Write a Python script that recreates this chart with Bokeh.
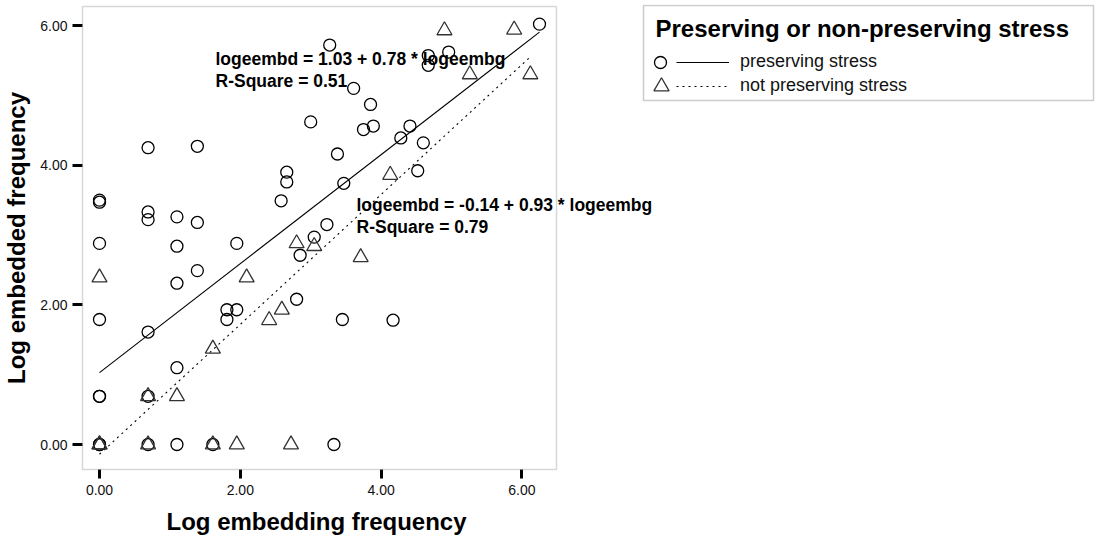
from bokeh.plotting import figure
from bokeh.models import (Range1d, FixedTicker, PrintfTickFormatter, Label,
                          Legend, LegendItem, ColumnDataSource, BoxAnnotation,
                          Title)
from bokeh.embed import file_html
from bokeh.resources import INLINE

# ---------------- data (log frequencies) ----------------
pres_x = [0, 0, 0, 0, 0, 0, 0, 0,
          0.69, 0.69, 0.69, 0.69, 0.69, 0.69,
          1.10, 1.10, 1.10, 1.10, 1.10,
          1.39, 1.39, 1.39,
          1.61,
          1.81, 1.81, 1.95, 1.95,
          2.58, 2.66, 2.66, 2.80, 2.85, 3.00, 3.05, 3.23, 3.27, 3.33, 3.38,
          3.45, 3.47, 3.61, 3.75, 3.85, 3.89, 4.17, 4.28, 4.41, 4.52, 4.60,
          4.67, 4.67, 4.96, 6.25]
pres_y = [0, 0, 0.69, 0.69, 1.79, 2.88, 3.47, 3.50,
          0, 0.69, 1.61, 3.22, 3.33, 4.25,
          0, 1.10, 2.31, 2.84, 3.26,
          2.49, 3.18, 4.27,
          0,
          1.79, 1.93, 1.93, 2.88,
          3.49, 3.76, 3.90, 2.08, 2.71, 4.62, 2.97, 3.15, 5.72, 0, 4.16,
          1.79, 3.74, 5.10, 4.51, 4.87, 4.56, 1.78, 4.39, 4.56, 3.92, 4.32,
          5.57, 5.43, 5.62, 6.02]

notp_x = [0, 0, 0, 0.69, 0.69, 1.10, 1.61, 1.61, 1.95, 2.09, 2.41, 2.59,
          2.72, 2.80, 3.05, 3.71, 4.13, 4.90, 5.26, 5.89, 6.12]
notp_y = [0, 0, 2.39, 0, 0.69, 0.69, 0, 1.37, 0, 2.39, 1.78, 1.93,
          0, 2.88, 2.84, 2.68, 3.86, 5.93, 5.30, 5.94, 5.30]

# fitted lines: intercept, slope, R-square (as printed on the chart)
pres_fit = [1.03, 0.78]
notp_fit = [-0.14, 0.93]
pres_r2 = 0.51
notp_r2 = 0.79

x_ticks = [0, 2, 4, 6]
y_ticks = [0, 2, 4, 6]

series_labels = ["preserving stress", "not preserving stress"]
legend_title = "Preserving or non-preserving stress"
x_title = "Log embedding frequency"
y_title = "Log embedded frequency"

FONT = "Liberation Sans"

# ---------------- layout (pixels of the 1095x544 canvas) ----------------
W, H = 1095, 544
FR_L, FR_T, FR_B = 80, 4, 471          # drawing frame edges
X0_PX, X_PPU = 99.0, 70.4              # x = 0 position, pixels per unit
Y0_PX, Y_PPU = 444.0, 69.83            # y = 0 position, pixels per unit

def px2x(px):
    return (px - X0_PX) / X_PPU

def px2y(py):
    return (Y0_PX - py) / Y_PPU

# fit line end points from the printed equations over each group's range
pres_lx = [min(pres_x), max(pres_x)]
pres_ly = [pres_fit[0] + pres_fit[1] * v for v in pres_lx]
notp_lx = [min(notp_x), max(notp_x)]
notp_ly = [notp_fit[0] + notp_fit[1] * v for v in notp_lx]

# the drawing frame runs to the right edge so that the legend and the
# annotations that cross the plot box are not clipped
p = figure(width=W, height=H,
           x_range=Range1d(px2x(FR_L), px2x(W)),
           y_range=Range1d(px2y(FR_B), px2y(FR_T)),
           min_border_left=FR_L, min_border_right=0,
           min_border_top=FR_T, min_border_bottom=H - FR_B,
           output_backend="svg", toolbar_location=None,
           background_fill_color="white", border_fill_color="white")
p.grid.visible = False
p.outline_line_color = None

# plot box
p.add_layout(BoxAnnotation(left=px2x(82), right=px2x(556),
                           bottom=px2y(469), top=px2y(6),
                           fill_color=None, fill_alpha=0,
                           line_color="#7a7a7a", line_width=1.5))

for ax, ticks in ((p.xaxis, x_ticks), (p.yaxis, y_ticks)):
    ax.ticker = FixedTicker(ticks=ticks)
    ax.formatter = PrintfTickFormatter(format="%.2f")
    ax.axis_line_color = None
    ax.major_tick_line_color = "black"
    ax.major_tick_line_width = 3
    ax.major_tick_in = 2
    ax.minor_tick_line_color = None
    ax.major_label_text_font = FONT
    ax.major_label_text_font_size = "14px"
    ax.major_label_text_color = "#111111"
    ax.axis_label_text_font = FONT
    ax.axis_label_text_font_size = "24px"
    ax.axis_label_text_font_style = "bold"
    ax.axis_label_text_color = "black"

p.xaxis.major_tick_out = 7
p.yaxis.major_tick_out = 8
p.xaxis.major_label_standoff = 6
p.yaxis.major_label_standoff = 5
p.yaxis.axis_label = y_title
p.yaxis.axis_label_standoff = 7

p.add_layout(Title(text=x_title, align="left", offset=86, standoff=16,
                   text_font=FONT, text_font_size="24px",
                   text_font_style="bold", text_color="black"), "below")

src_p = ColumnDataSource(dict(x=pres_x, y=pres_y))
src_n = ColumnDataSource(dict(x=notp_x, y=notp_y))

line_p = p.line(pres_lx, pres_ly, line_color="black", line_width=1.1)
line_n = p.line(notp_lx, notp_ly, line_color="black", line_width=1.1,
                line_dash="2 4")

circ = p.scatter("x", "y", source=src_p, marker="circle", size=12,
                 fill_color=None, line_color="black", line_width=1.3)
tri = p.scatter("x", "y", source=src_n, marker="triangle", size=15,
                fill_color=None, line_color="#333333", line_width=1.3)

def add_label(x_px, base_px, txt, size=17.5):
    # the svg text lands about 0.4 em below the requested baseline
    p.add_layout(Label(x=px2x(x_px), y=px2y(base_px - 0.4 * size), text=txt,
                       text_font=FONT, text_font_size=f"{size}px",
                       text_font_style="bold", text_color="black",
                       text_align="left", text_baseline="alphabetic"))

add_label(215, 65, f"logeembd = {pres_fit[0]:.2f} + {pres_fit[1]:.2f} * logeembg")
add_label(215, 87.7, f"R-Square = {pres_r2:.2f}")
add_label(356, 211.7, f"logeembd = {notp_fit[0]:.2f} + {notp_fit[1]:.2f} * logeembg")
add_label(356, 233.3, f"R-Square = {notp_r2:.2f}")

# ---------------- legend ----------------
# border of the legend box
p.add_layout(BoxAnnotation(left=px2x(643), right=px2x(1093),
                           bottom=px2y(100), top=px2y(5),
                           fill_color="white", fill_alpha=1.0,
                           line_color="#555555", line_width=1.5))
# legend title
add_label(655, 38, legend_title, size=24)

common = dict(label_text_font=FONT, label_text_font_size="18px",
              label_text_color="#111111", border_line_color=None,
              background_fill_alpha=0.0, padding=0, margin=0)

# line swatches + labels (rows centred at y = 61.7 and 85.7)
leg_lines = Legend(items=[LegendItem(label=series_labels[0], renderers=[line_p]),
                          LegendItem(label=series_labels[1], renderers=[line_n])],
                   location=(676 - FR_L, FR_B - 97.7),
                   spacing=0, glyph_width=53, glyph_height=24,
                   label_standoff=11, label_height=20, **common)
p.add_layout(leg_lines)

# marker swatches, one legend each so their size can be set
leg_c = Legend(items=[LegendItem(label=" ", renderers=[circ])],
               location=(645 - FR_L, FR_B - 76.7),
               glyph_width=30, glyph_height=30, label_standoff=0,
               label_width=0, label_height=20, **common)
leg_t = Legend(items=[LegendItem(label=" ", renderers=[tri])],
               location=(642 - FR_L, FR_B - 105),
               glyph_width=38, glyph_height=38, label_standoff=0,
               label_width=0, label_height=20, **common)
p.add_layout(leg_c)
p.add_layout(leg_t)

open("out.html", "w").write(file_html(p, INLINE))
